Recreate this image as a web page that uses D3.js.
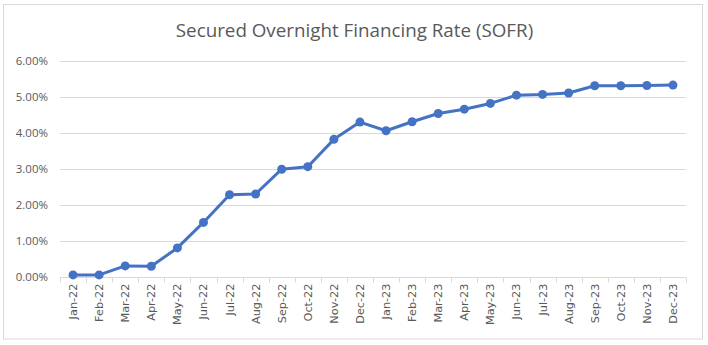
<!DOCTYPE html>
<html>
<head>
<meta charset="utf-8">
<script src="https://cdn.jsdelivr.net/npm/d3@7"></script>
<style>
  body { margin: 0; background: #fff; }
  text { font-family: "Open Sans", "Liberation Sans", sans-serif; }
</style>
</head>
<body>
<svg id="chart" width="708" height="345"></svg>
<script>
// months on the x axis
const months = ["Jan-22", "Feb-22", "Mar-22", "Apr-22", "May-22", "Jun-22", "Jul-22", "Aug-22",
  "Sep-22", "Oct-22", "Nov-22", "Dec-22", "Jan-23", "Feb-23", "Mar-23", "Apr-23", "May-23",
  "Jun-23", "Jul-23", "Aug-23", "Sep-23", "Oct-23", "Nov-23", "Dec-23"];
// SOFR in percent
const sofr = [0.05, 0.05, 0.30, 0.29, 0.80, 1.51, 2.28, 2.30, 2.99, 3.06, 3.82, 4.30,
  4.06, 4.31, 4.54, 4.66, 4.82, 5.05, 5.07, 5.11, 5.31, 5.31, 5.32, 5.33];
const yTicks = [0, 1, 2, 3, 4, 5, 6];
const title = "Secured Overnight Financing Rate (SOFR)";

const svg = d3.select("#chart");
const margin = { left: 60, right: 22, top: 61, bottom: 68 };
const W = 708, H = 345;

// chart border
svg.append("rect")
  .attr("x", 3.5).attr("y", 4.5)
  .attr("width", 699).attr("height", 334.5)
  .attr("fill", "#fff")
  .attr("stroke", "#d9d9d9");

svg.append("text")
  .attr("x", 354.5).attr("y", 37)
  .attr("text-anchor", "middle")
  .attr("font-size", 18.8)
  .attr("fill", "#595959")
  .text(title);

const x = d3.scaleBand().domain(months).range([margin.left, W - margin.right]);
const y = d3.scaleLinear().domain([0, 6]).range([H - margin.bottom - 0.3, margin.top]);

// gridlines
svg.append("g")
  .selectAll("line")
  .data(yTicks.slice(1))
  .join("line")
  .attr("x1", margin.left).attr("x2", W - margin.right)
  .attr("y1", d => Math.round(y(d)) + 0.5).attr("y2", d => Math.round(y(d)) + 0.5)
  .attr("stroke", "#d9d9d9");

// y labels
svg.append("g")
  .selectAll("text")
  .data(yTicks)
  .join("text")
  .attr("x", 48).attr("y", d => y(d) + 4)
  .attr("text-anchor", "end")
  .attr("font-size", 11.5)
  .attr("fill", "#595959")
  .text(d => d.toFixed(2) + "%");

// x axis: line and ticks at category boundaries
const xAxis = svg.append("g");
const y0 = Math.round(y(0)) + 0.5;
xAxis.append("line")
  .attr("x1", margin.left).attr("x2", W - margin.right)
  .attr("y1", y0).attr("y2", y0)
  .attr("stroke", "#d9d9d9");
xAxis.selectAll("line.tick")
  .data(months.concat(["end"]))
  .join("line")
  .attr("class", "tick")
  .attr("x1", (d, i) => Math.round(margin.left + i * x.step()) + 0.5)
  .attr("x2", (d, i) => Math.round(margin.left + i * x.step()) + 0.5)
  .attr("y1", y0).attr("y2", y0 + 5)
  .attr("stroke", "#d9d9d9");
xAxis.selectAll("text")
  .data(months)
  .join("text")
  .attr("transform", d => `translate(${x(d) + x.bandwidth() / 2 + 4},${y0 + 6}) rotate(-90)`)
  .attr("text-anchor", "end")
  .style("font-family", "'DejaVu Sans', sans-serif")
  .attr("font-size", 11.3)
  .attr("fill", "#595959")
  .text(d => d);

// line + markers
const pts = months.map((m, i) => ({ m: m, v: sofr[i] }));
const line = d3.line()
  .x(d => x(d.m) + x.bandwidth() / 2)
  .y(d => y(d.v));
svg.append("path")
  .datum(pts)
  .attr("d", line)
  .attr("fill", "none")
  .attr("stroke", "#4472c4")
  .attr("stroke-width", 3)
  .attr("stroke-linejoin", "round");
svg.append("g")
  .selectAll("circle")
  .data(pts)
  .join("circle")
  .attr("cx", d => x(d.m) + x.bandwidth() / 2)
  .attr("cy", d => y(d.v))
  .attr("r", 4.5)
  .attr("fill", "#4472c4");
</script>
</body>
</html>
